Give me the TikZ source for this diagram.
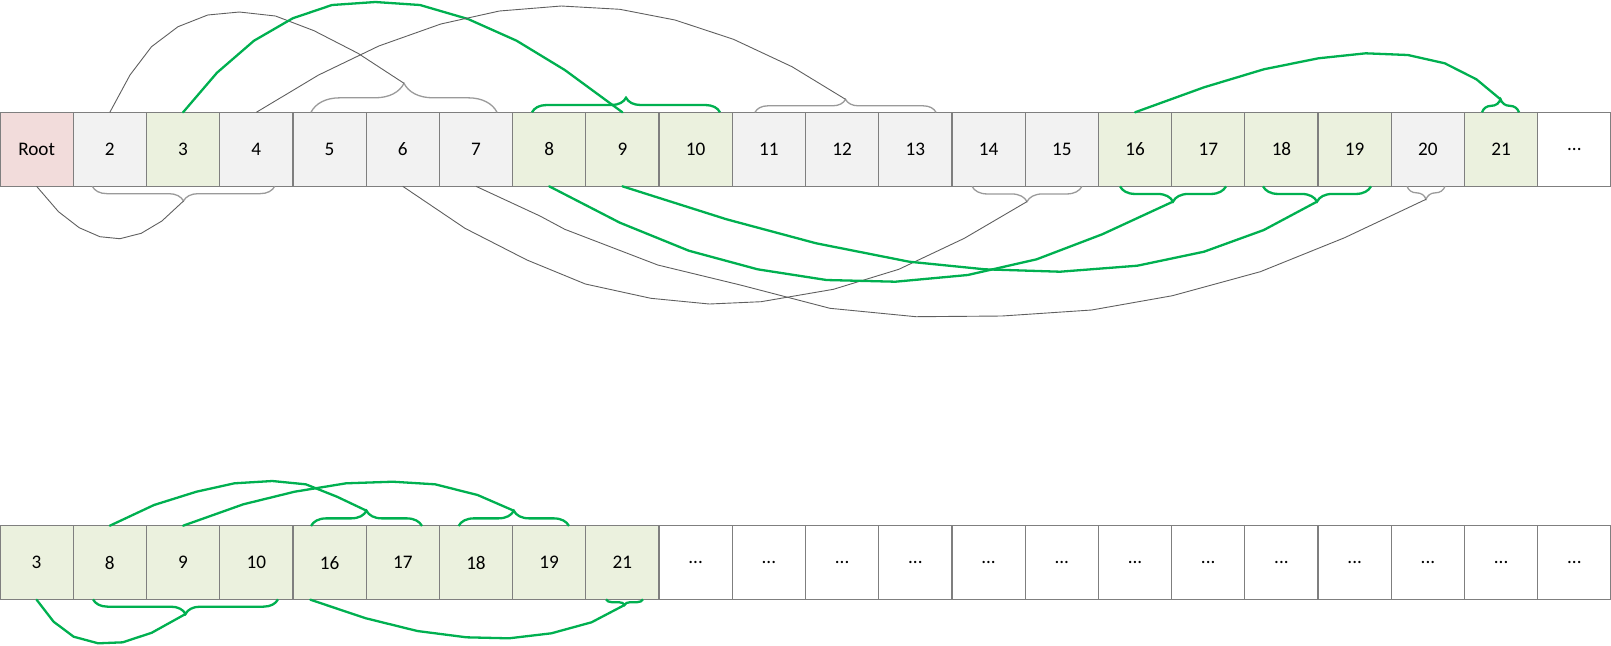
\documentclass[tikz,border=0pt]{standalone}
\usepackage{fontspec}
\setmainfont{Carlito}
\usetikzlibrary{decorations.pathreplacing}
\definecolor{rootfill}{HTML}{F2DCDB}
\definecolor{grayfill}{HTML}{F2F2F2}
\definecolor{greenfill}{HTML}{EBF1DE}
\definecolor{cellborder}{HTML}{7F7F7F}
\definecolor{linegreen}{HTML}{00B050}
\definecolor{linegray}{HTML}{5F5F5F}
\definecolor{bracegray}{HTML}{9A9A9A}
\newcommand{\mycellfont}{\fontsize{9.6pt}{11pt}\selectfont}
\newcommand{\mydots}{...}
\tikzset{
  cell/.style={draw=cellborder, line width=0.6pt, minimum width=36.6pt, minimum height=37pt, inner sep=0pt, outer sep=0pt, font=\mycellfont, text=black},
  rootcell/.style={fill=rootfill},
  graycell/.style={fill=grayfill},
  greencell/.style={fill=greenfill},
  whitecell/.style={fill=white},
  gline/.style={draw=linegreen, line width=1.15pt, line join=round, line cap=round},
  kline/.style={draw=linegray, line width=0.45pt, line join=round},
  gbrace/.style={draw=linegreen, line width=1.15pt, decorate, decoration={brace, amplitude=#1}},
  kbrace/.style={draw=bracegray, line width=0.65pt, decorate, decoration={brace, amplitude=#1}},
}
\begin{document}
\begin{tikzpicture}[x=0.5pt, y=-0.5pt]
\useasboundingbox (0,0) rectangle (1611,645);

% top row
\foreach \i/\lab/\sty in {0/Root/rootcell,1/2/graycell,2/3/greencell,3/4/graycell,4/5/graycell,5/6/graycell,6/7/graycell,7/8/greencell,8/9/greencell,9/10/greencell,10/11/graycell,11/12/graycell,12/13/graycell,13/14/graycell,14/15/graycell,15/16/greencell,16/17/greencell,17/18/greencell,18/19/greencell,19/20/graycell,20/21/greencell,21/\mydots/whitecell}
  \node[cell,\sty] (t\i) at ({73.2273*\i+36.6136},149.3) {\lab};

% bottom row
\foreach \i/\lab/\sty in {0/3/greencell,1/8/greencell,2/9/greencell,3/10/greencell,4/16/greencell,5/17/greencell,6/18/greencell,7/19/greencell,8/21/greencell,9/\mydots/whitecell,10/\mydots/whitecell,11/\mydots/whitecell,12/\mydots/whitecell,13/\mydots/whitecell,14/\mydots/whitecell,15/\mydots/whitecell,16/\mydots/whitecell,17/\mydots/whitecell,18/\mydots/whitecell,19/\mydots/whitecell,20/\mydots/whitecell,21/\mydots/whitecell}
  \node[cell,\sty] (b\i) at ({73.2273*\i+36.6136},562.7) {\lab};

% brace tips
\coordinate (tipA) at (404,83.3);
\coordinate (tipB) at (626,97.7);
\coordinate (tipC) at (845.5,99.3);
\coordinate (tipD) at (1500.5,99.3);
\coordinate (tipE) at (183.5,201);
\coordinate (tipF) at (1027,201.6);
\coordinate (tipG) at (1426,199.3);
\coordinate (tipH) at (1173,201.6);
\coordinate (tipJ) at (1317,201.6);
\coordinate (tipI) at (366.5,510.7);
\coordinate (tipK) at (513.8,510.7);
\coordinate (tipL) at (185.5,614);
\coordinate (tipM) at (624.5,605);

% braces, top row
\draw[kbrace=14.5pt] (311,112.3) -- (497,112.3);
\draw[gbrace=7.3pt] (532,112.3) -- (720,112.3);
\draw[kbrace=6.5pt] (755,112.3) -- (936,112.3);
\draw[gbrace=6.5pt] (1482,112.3) -- (1519,112.3);
\draw[kbrace=7.35pt] (274.7,186.3) -- (92.3,186.3);
\draw[kbrace=7.65pt] (1082,186.3) -- (972,186.3);
\draw[kbrace=6.5pt] (1445,186.3) -- (1407,186.3);
\draw[gbrace=7.65pt] (1226,186.3) -- (1120,186.3);
\draw[gbrace=7.65pt] (1371,186.3) -- (1263,186.3);

% braces, bottom row
\draw[gbrace=7.65pt] (311,526) -- (422,526);
\draw[gbrace=7.65pt] (458.6,526) -- (569,526);
\draw[gbrace=7.35pt] (278,599.3) -- (93,599.3);
\draw[gbrace=2.85pt] (643,599.3) -- (606,599.3);

% connectors, top row, above
\draw[kline] (t1.north) -- (130,75) -- (151.5,46.7) -- (178,26.7) -- (207.7,15) -- (239.4,12) -- (275.5,16) -- (314,30.7) -- (358,53.3) -- (tipA);
\draw[gline] (t2.north) -- (217,72.7) -- (254,40.7) -- (292.7,18.3) -- (332,5) -- (375.4,2) -- (420,5) -- (468,19) -- (516.6,40.7) -- (564.8,70) -- (t8.north);
\draw[kline] (t3.north) -- (318.6,75) -- (378.8,46) -- (440.8,24) -- (499.4,11) -- (561.3,6) -- (619.9,9.3) -- (675,20) -- (733.5,39.3) -- (792,66.7) -- (tipC);
\draw[gline] (t15.north) -- (1204,87.3) -- (1263.8,69.3) -- (1318.3,58.3) -- (1365.7,53.3) -- (1407.9,55) -- (1444.8,63.3) -- (1476.4,79.3) -- (tipD);

% connectors, top row, below
\draw[kline] (t0.south) -- (58.5,211.7) -- (79.2,227.7) -- (99.9,236.7) -- (119.9,238.7) -- (141.2,233.3) -- (161.9,221) -- (tipE);
\draw[kline] (t5.south) -- (465,228.3) -- (527,260) -- (585.4,284) -- (650.9,298.3) -- (709.4,304) -- (761,301.7) -- (833.4,289.3) -- (898.8,269.3) -- (964.3,238.3) -- (tipF);
\draw[kline] (t6.south) -- (540,216) -- (564.8,229.3) -- (657.8,265) -- (740.4,285) -- (830,308.3) -- (916,316.7) -- (1002,316) -- (1091.6,310) -- (1172.4,295.7) -- (1260.3,271.7) -- (1344.6,237.7) -- (tipG);
\draw[gline] (t7.south) -- (619.9,222.7) -- (688.8,250.7) -- (757.6,269.3) -- (826.5,280) -- (895.4,281.7) -- (967.7,275) -- (1036.6,259.3) -- (1102.2,234.3) -- (tipH);
\draw[gline] (t8.south) -- (726.6,219.3) -- (816.2,243.3) -- (909.2,261.7) -- (984.9,269.3) -- (1060,271.7) -- (1137.3,265.7) -- (1204,251.7) -- (1263.8,230) -- (tipJ);

% connectors, bottom row
\draw[gline] (b1.north) -- (154,505) -- (196.4,491.7) -- (234.4,483.3) -- (272.3,481) -- (305.8,484.3) -- (337,496.7) -- (tipI);
\draw[gline] (b2.north) -- (243.3,504.3) -- (294.6,491.7) -- (346,483.3) -- (392.8,481.7) -- (435.2,484.3) -- (477.6,495) -- (tipK);
\draw[gline] (b0.south) -- (53.6,621.7) -- (73.7,636.7) -- (98.2,643.3) -- (122.8,642.3) -- (151.8,632.7) -- (tipL);
\draw[gline] ([xshift=-9.6pt]b4.south) -- (366,618.3) -- (417.4,631) -- (466.5,637.3) -- (508.9,638.3) -- (551.3,633.3) -- (591.5,622.3) -- (tipM);
\end{tikzpicture}
\end{document}
